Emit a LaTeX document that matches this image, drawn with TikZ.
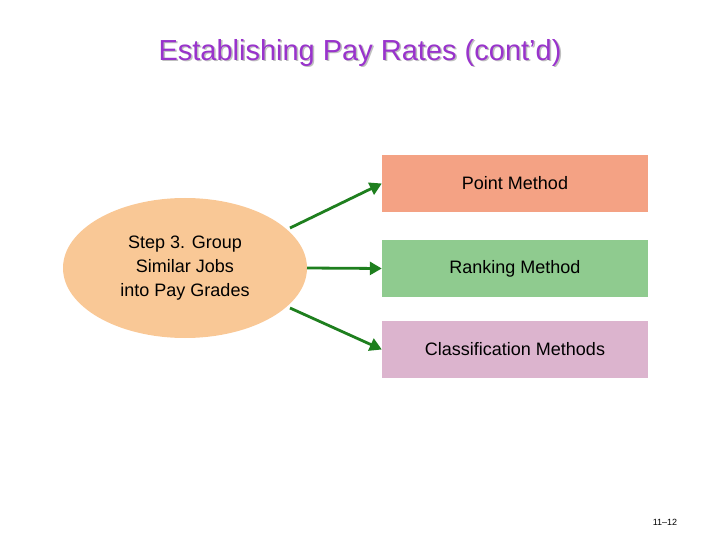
\documentclass[tikz,border=0pt]{standalone}
\usepackage{fontspec}
\setmainfont{Liberation Sans}
\usetikzlibrary{arrows.meta,shapes.geometric}
\definecolor{ttl}{HTML}{9933CC}
\definecolor{ell}{HTML}{F9C896}
\definecolor{pt}{HTML}{F4A284}
\definecolor{rk}{HTML}{8FCB8F}
\definecolor{cl}{HTML}{DCB4CE}
\definecolor{arr}{HTML}{1E7F1E}
\tikzset{box/.style={minimum width=266pt,minimum height=57pt,inner sep=0pt,font=\fontsize{18}{20}\selectfont},
con/.style={draw=arr,line width=2.8pt,-{Triangle[length=12pt,width=13pt]}}}
\begin{document}
\begin{tikzpicture}[x=1pt,y=-1pt]
\useasboundingbox (0,0) rectangle (720,540);
\node[text=gray!50,font=\fontsize{29}{32}\selectfont] at (361.5,54.5) {Establishing Pay Rates (cont’d)};
\node[text=ttl,font=\fontsize{29}{32}\selectfont] (t) at (360,53) {Establishing Pay Rates (cont’d)};
\node[ellipse,fill=ell,minimum width=244pt,minimum height=140pt,inner sep=0pt,align=center,font=\fontsize{18}{24}\selectfont] (e) at (185,268) {Step 3. Group\\Similar Jobs\\into Pay Grades};
\node[box,fill=pt] (p) at (515,183.5) {Point Method};
\node[box,fill=rk] (r) at (515,268.5) {Ranking Method};
\node[box,fill=cl] (c) at (515,349.5) {Classification Methods};
\coordinate (a1) at (290,228); \coordinate (a2) at (307,268); \coordinate (a3) at (290,308);
\draw[con] (a1) -- (p.west);
\draw[con] (a2) -- (r.west);
\draw[con] (a3) -- (c.west);
\node[font=\fontsize{9}{10}\selectfont] (n) at (665,522) {11–12};
\end{tikzpicture}
\end{document}
